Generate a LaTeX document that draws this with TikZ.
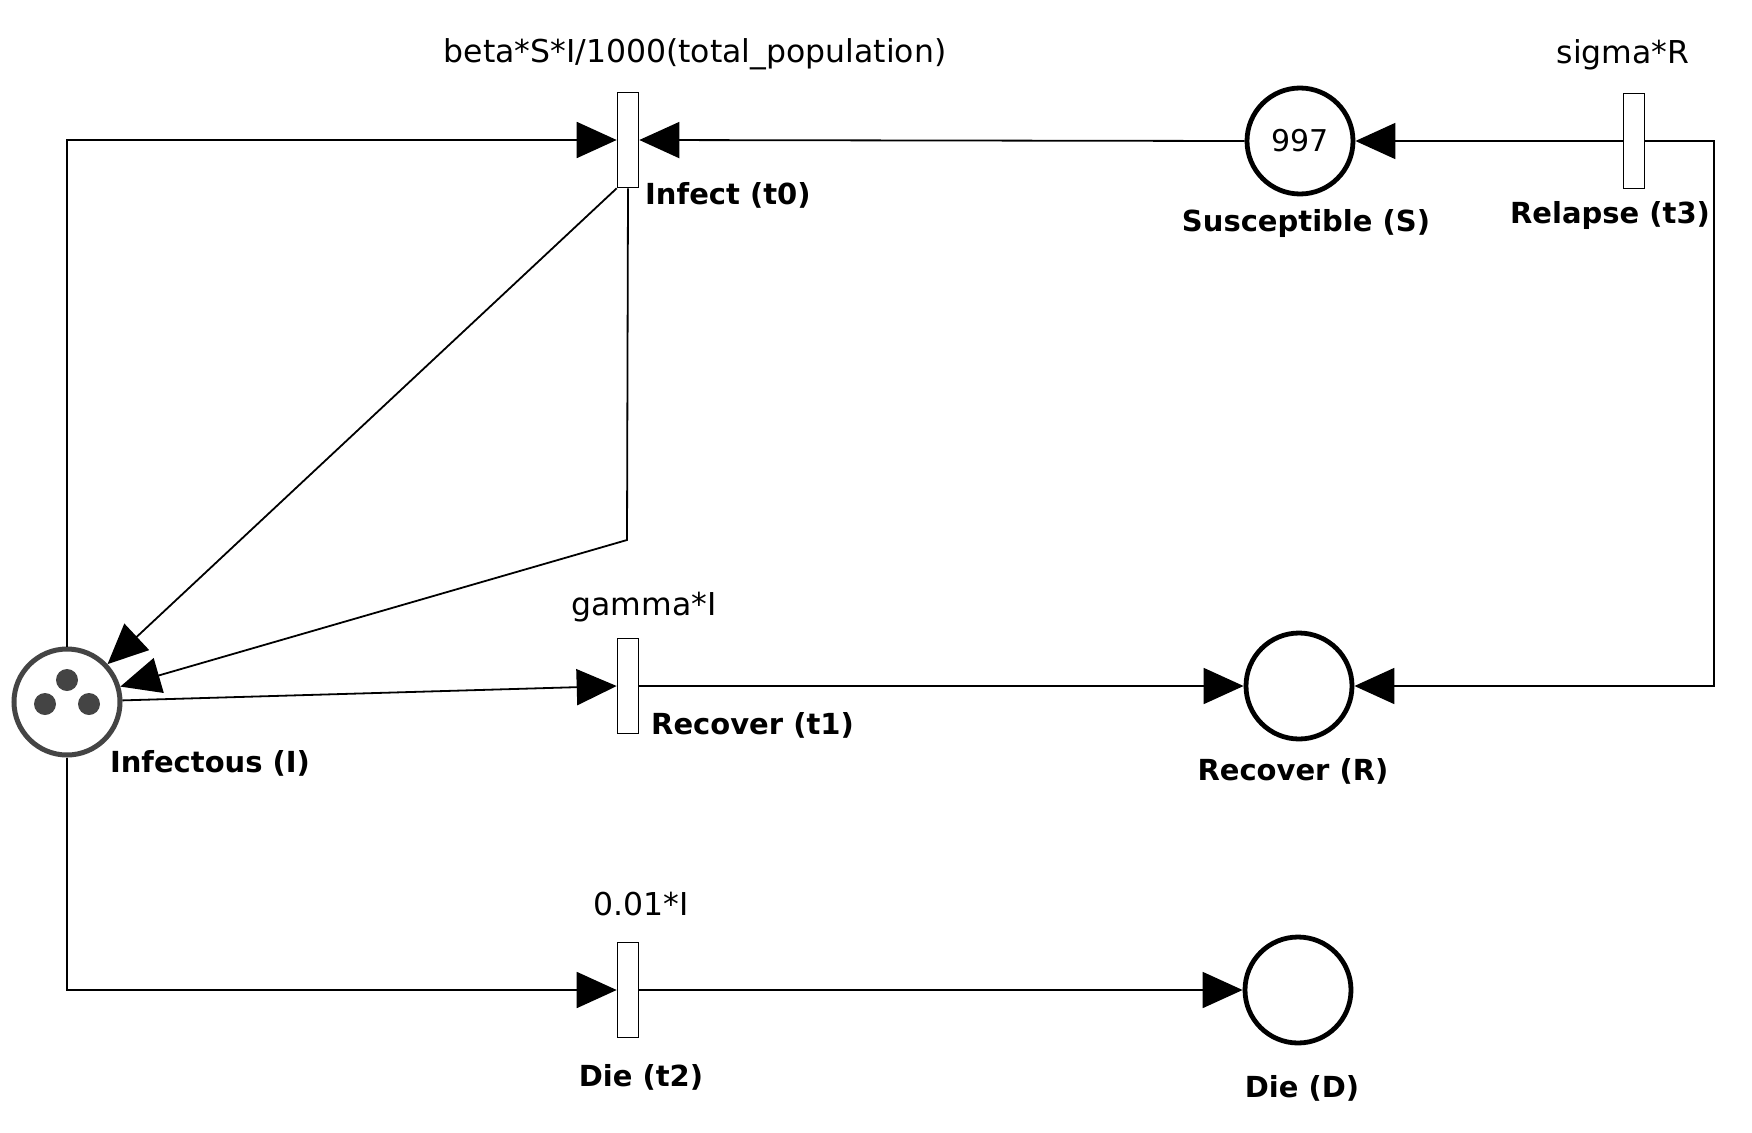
\documentclass[tikz,border=0pt]{standalone}
\usepackage{fontspec}
\setmainfont{DejaVu Sans}
\usetikzlibrary{arrows.meta}
\definecolor{tokgray}{HTML}{444444}
\begin{document}
\begin{tikzpicture}[x=1pt,y=-1pt,
  place/.style={circle, draw=black, line width=4.8pt, minimum size=106pt, inner sep=0pt, font=\fontsize{30}{36}\selectfont},
  trans/.style={rectangle, draw=black, fill=white, line width=1.6pt, minimum width=21pt, minimum height=95pt, inner sep=0pt},
  lab/.style={font=\fontsize{29}{35}\selectfont\bfseries, inner sep=0pt},
  rate/.style={font=\fontsize{31.5}{37}\selectfont, inner sep=0pt},
  arc/.style={line width=1.8pt, -{Triangle[length=40pt,width=36pt]}},
  tok/.style={circle, fill=tokgray, minimum size=22pt, inner sep=0pt}
]
\useasboundingbox (0,0) rectangle (1752,1132);
\fill[white] (0,0) rectangle (1752,1132);

% places
\node[place, draw=tokgray, line width=5pt] (I) at (67,702) {};
\node[tok] (k1) at (67,680) {};
\node[tok] (k2) at (45,704) {};
\node[tok] (k3) at (89,704) {};
\node[place] (S) at (1300,141) {997};
\node[place] (R) at (1299,686) {};
\node[place] (D) at (1298,990) {};

% transitions
\node[trans] (t0) at (628,140) {};
\node[trans] (t1) at (628,686) {};
\node[trans] (t2) at (628,990) {};
\node[trans] (t3) at (1634,141) {};

% labels
\node[rate] (r0) at (695,54) {beta*S*I/1000(total\_population)};
\node[rate] (r3) at (1623,55) {sigma*R};
\node[rate] (r1) at (644,607) {gamma*I};
\node[rate] (r2) at (641,904) {0.01*I};
\node[lab, anchor=west] (l0) at (645,195) {Infect (t0)};
\node[lab] (lS) at (1306,223) {Susceptible (S)};
\node[lab] (l3) at (1610,215) {Relapse (t3)};
\node[lab, anchor=west] (l1) at (651,725) {Recover (t1)};
\node[lab] (lI) at (210,763) {Infectous (I)};
\node[lab] (lR) at (1293,771) {Recover (R)};
\node[lab] (l2) at (641,1077) {Die (t2)};
\node[lab] (lD) at (1302,1088) {Die (D)};

% arcs
\coordinate (bend) at (627,540);
\coordinate (corner) at (1714,141);
\draw[arc] (I.north) |- (t0.west);
\draw[arc] (S.west) -- (t0.east);
\draw[arc] (t0.south west) -- (I);
\draw[arc] (t0.south) -- (bend) -- (I);
\draw[arc] (I) -- (t1.west);
\draw[arc] (t1.east) -- (R.west);
\draw[arc] (I.south) |- (t2.west);
\draw[arc] (t2.east) -- (D.west);
\draw[arc] (t3.west) -- (S.east);
\draw[arc] (t3.east) -- (corner) |- (R.east);
\end{tikzpicture}
\end{document}
